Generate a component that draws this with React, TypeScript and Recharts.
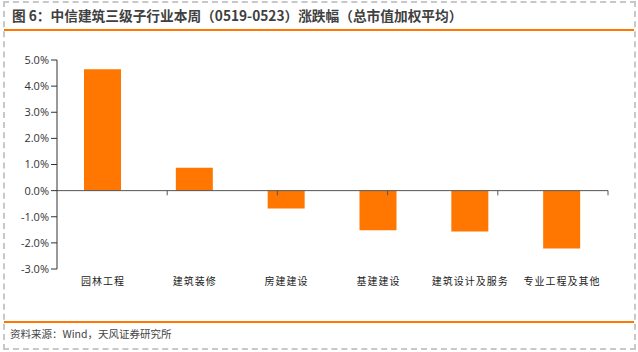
import { BarChart, Bar, XAxis, YAxis, ReferenceLine } from "recharts";

const categories = ["园林工程", "建筑装修", "房建建设", "基建建设", "建筑设计及服务", "专业工程及其他"];
const weeklyChange = [4.65, 0.88, -0.68, -1.52, -1.56, -2.22];
const yTicks = [-3, -2, -1, 0, 1, 2, 3, 4, 5];
const boundaries = [1, 2, 3, 4, 5, 6];

const ORANGE = "#FF7700";
const AXIS = "#333";

const chartData = categories.map((name, i) => ({ name, value: weeklyChange[i] }));

export default function App() {
  return (
    <div
      style={{
        position: "absolute",
        left: 0,
        top: 0,
        width: 638,
        height: 352,
        background: "#fff",
        overflow: "hidden",
        fontFamily: "'Noto Sans CJK SC', sans-serif",
      }}
    >
      {/* dashed frame */}
      <div
        style={{
          position: "absolute",
          left: 3,
          top: 1,
          width: 633,
          height: 349,
          border: "2px dashed #c8c8c8",
          boxSizing: "border-box",
        }}
      />
      <div
        style={{
          position: "absolute",
          left: 12,
          top: 5,
          fontSize: 13.7,
          fontWeight: "bold",
          color: "#404040",
          whiteSpace: "nowrap",
          lineHeight: "20px",
        }}
      >
        图 6：中信建筑三级子行业本周（0519-0523）涨跌幅（总市值加权平均）
      </div>
      <div style={{ position: "absolute", left: 4, top: 29, width: 630, height: 2, background: ORANGE }} />

      <div style={{ position: "absolute", left: 0, top: 0 }}>
        <BarChart width={638} height={352} data={chartData} margin={{ top: 60, right: 30, left: 0, bottom: 53 }}>
          <XAxis
            dataKey="name"
            height={30}
            axisLine={false}
            tickLine={false}
            tickSize={0}
            tickMargin={9}
            interval={0}
            tick={{ fontSize: 10, fill: "#222", letterSpacing: 1, fontFamily: "'Noto Sans CJK SC'" }}
          />
          <XAxis xAxisId="num" type="number" domain={[0, 6]} hide />
          <YAxis
            width={57}
            domain={[-3, 5]}
            ticks={yTicks}
            interval={0}
            stroke={AXIS}
            tickSize={6}
            tickMargin={2}
            tickFormatter={(v: number) => `${v.toFixed(1)}%`}
            tick={{ fontSize: 11, fill: "#333", fontFamily: "'Open Sans'" }}
          />
          <Bar dataKey="value" fill={ORANGE} barSize={37} isAnimationActive={false} />
          <ReferenceLine y={0} stroke="#555" strokeWidth={1} />
          {boundaries.map((b) => (
            <ReferenceLine
              key={b}
              xAxisId="num"
              segment={[
                { x: b, y: 0 },
                { x: b, y: -0.18 },
              ]}
              stroke="#555"
              strokeWidth={1}
            />
          ))}
        </BarChart>
      </div>

      <div style={{ position: "absolute", left: 4, top: 321, width: 630, height: 2, background: ORANGE }} />
      <div
        style={{
          position: "absolute",
          left: 10,
          top: 326,
          fontSize: 10.5,
          color: "#444",
          whiteSpace: "nowrap",
          lineHeight: "16px",
        }}
      >
        资料来源：Wind，天风证券研究所
      </div>
    </div>
  );
}
